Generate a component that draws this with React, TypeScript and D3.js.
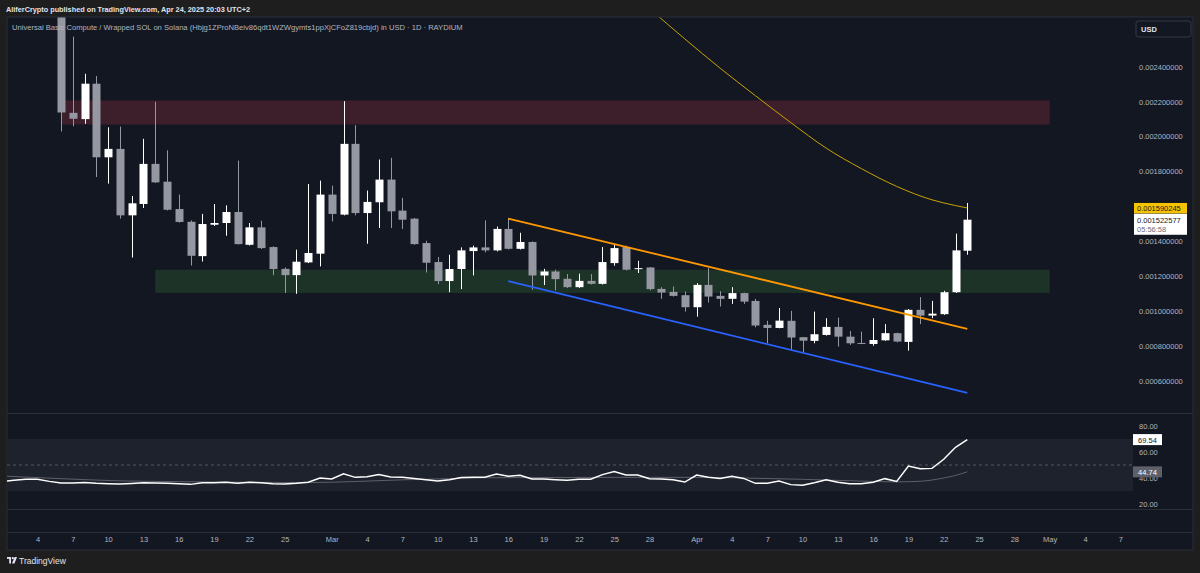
import { useEffect, useRef } from 'react';
import * as d3 from 'd3';

// date, open, high, low, close
type Candle = [string, number, number, number, number];

const candles: Candle[] = [
  ['2025-02-06', 0.00272, 0.0028, 0.002029, 0.002138],
  ['2025-02-07', 0.002136, 0.002573, 0.002059, 0.002102],
  ['2025-02-08', 0.0021, 0.00236, 0.002073, 0.002303],
  ['2025-02-09', 0.002303, 0.002347, 0.001768, 0.001881],
  ['2025-02-10', 0.001881, 0.002053, 0.00173, 0.001929],
  ['2025-02-11', 0.001929, 0.002057, 0.001529, 0.001548],
  ['2025-02-12', 0.001548, 0.001659, 0.001306, 0.001617],
  ['2025-02-13', 0.001613, 0.001987, 0.00159, 0.001843],
  ['2025-02-14', 0.001843, 0.0022, 0.001734, 0.001737],
  ['2025-02-15', 0.001741, 0.001921, 0.001576, 0.00158],
  ['2025-02-16', 0.001584, 0.001667, 0.001506, 0.00151],
  ['2025-02-17', 0.001511, 0.001519, 0.00126, 0.001316],
  ['2025-02-18', 0.001314, 0.001556, 0.001283, 0.001498],
  ['2025-02-19', 0.001494, 0.001613, 0.001487, 0.001504],
  ['2025-02-20', 0.001504, 0.001605, 0.001431, 0.001567],
  ['2025-02-21', 0.001567, 0.001862, 0.001381, 0.001383],
  ['2025-02-22', 0.001379, 0.001504, 0.001375, 0.001479],
  ['2025-02-23', 0.001479, 0.001517, 0.001355, 0.00136],
  ['2025-02-24', 0.001366, 0.00137, 0.001205, 0.00124],
  ['2025-02-25', 0.001241, 0.001249, 0.001103, 0.001205],
  ['2025-02-26', 0.001205, 0.001351, 0.001098, 0.001282],
  ['2025-02-27', 0.001278, 0.001728, 0.001274, 0.001332],
  ['2025-02-28', 0.001328, 0.001747, 0.001255, 0.001667],
  ['2025-03-01', 0.001667, 0.001718, 0.001513, 0.001556],
  ['2025-03-02', 0.001552, 0.002203, 0.001548, 0.001958],
  ['2025-03-03', 0.001958, 0.002065, 0.001548, 0.001561],
  ['2025-03-04', 0.001561, 0.00169, 0.001385, 0.001625],
  ['2025-03-05', 0.001623, 0.001868, 0.001475, 0.001753],
  ['2025-03-06', 0.001753, 0.001878, 0.001475, 0.001571],
  ['2025-03-07', 0.001575, 0.001648, 0.00147, 0.001523],
  ['2025-03-08', 0.001529, 0.001533, 0.001379, 0.001383],
  ['2025-03-09', 0.001389, 0.001402, 0.00122, 0.001276],
  ['2025-03-10', 0.00128, 0.001309, 0.001153, 0.001171],
  ['2025-03-11', 0.001171, 0.001322, 0.001107, 0.00124],
  ['2025-03-12', 0.00124, 0.001364, 0.001125, 0.001347],
  ['2025-03-13', 0.001343, 0.001374, 0.001203, 0.001364],
  ['2025-03-14', 0.001364, 0.001519, 0.001335, 0.001347],
  ['2025-03-15', 0.001347, 0.001484, 0.001341, 0.00147],
  ['2025-03-16', 0.00147, 0.001533, 0.001352, 0.001356],
  ['2025-03-17', 0.001356, 0.001448, 0.001352, 0.001395],
  ['2025-03-18', 0.001395, 0.001398, 0.001121, 0.001203],
  ['2025-03-19', 0.001203, 0.001241, 0.001148, 0.001226],
  ['2025-03-20', 0.001226, 0.001236, 0.001117, 0.001182],
  ['2025-03-21', 0.001184, 0.001211, 0.001131, 0.001136],
  ['2025-03-22', 0.001136, 0.001213, 0.001132, 0.001172],
  ['2025-03-23', 0.001172, 0.001211, 0.001151, 0.001155],
  ['2025-03-24', 0.001155, 0.001366, 0.001151, 0.00128],
  ['2025-03-25', 0.001274, 0.001379, 0.001259, 0.00136],
  ['2025-03-26', 0.001366, 0.001374, 0.001232, 0.001236],
  ['2025-03-27', 0.00124, 0.001287, 0.001217, 0.001245],
  ['2025-03-28', 0.001249, 0.001251, 0.001117, 0.001125],
  ['2025-03-29', 0.001126, 0.001136, 0.001069, 0.001105],
  ['2025-03-30', 0.001109, 0.00114, 0.001082, 0.001086],
  ['2025-03-31', 0.00109, 0.001111, 0.000996, 0.001021],
  ['2025-04-01', 0.001021, 0.001159, 0.000967, 0.001149],
  ['2025-04-02', 0.001149, 0.001245, 0.001048, 0.001082],
  ['2025-04-03', 0.001086, 0.001113, 0.001025, 0.001069],
  ['2025-04-04', 0.001069, 0.001136, 0.00104, 0.001102],
  ['2025-04-05', 0.001102, 0.001104, 0.00104, 0.001053],
  ['2025-04-06', 0.001057, 0.001069, 0.000906, 0.000916],
  ['2025-04-07', 0.00092, 0.000943, 0.000814, 0.000902],
  ['2025-04-08', 0.000902, 0.001016, 0.0009, 0.000944],
  ['2025-04-09', 0.000943, 0.001, 0.000776, 0.000847],
  ['2025-04-10', 0.000849, 0.00085, 0.000763, 0.000829],
  ['2025-04-11', 0.000828, 0.000996, 0.000814, 0.000866],
  ['2025-04-12', 0.000862, 0.000958, 0.000858, 0.000908],
  ['2025-04-13', 0.000908, 0.000961, 0.000795, 0.000852],
  ['2025-04-14', 0.000852, 0.000885, 0.000805, 0.000814],
  ['2025-04-15', 0.000816, 0.000881, 0.000809, 0.000815],
  ['2025-04-16', 0.00081, 0.000958, 0.0008, 0.000833],
  ['2025-04-17', 0.000831, 0.000924, 0.000828, 0.000872],
  ['2025-04-18', 0.000872, 0.000875, 0.000819, 0.000824],
  ['2025-04-19', 0.000822, 0.001011, 0.000772, 0.001006],
  ['2025-04-20', 0.001006, 0.001079, 0.000924, 0.000973],
  ['2025-04-21', 0.000973, 0.001057, 0.000958, 0.000984],
  ['2025-04-22', 0.000981, 0.001115, 0.000977, 0.001107],
  ['2025-04-23', 0.001107, 0.001443, 0.001103, 0.001347],
  ['2025-04-24', 0.001345, 0.001619, 0.001322, 0.001523],
];

// daily RSI(14), starting Feb 1
const rsiStart = '2025-02-01';
const rsiValues = [
  37.4, 38.2, 39.0, 39.0, 37.4, 36.2, 36.2, 36.6, 35.9, 35.6, 35.4, 35.8, 36.4, 36.2,
  35.9, 35.6, 35.1, 36.3, 36.4, 36.7, 35.9, 36.7, 36.4, 35.6, 35.4, 35.9, 36.7, 40.0,
  39.2, 43.3, 40.5, 41.0, 42.6, 40.8, 40.5, 39.7, 38.7, 37.7, 38.7, 40.3, 40.5, 40.6,
  43.1, 41.3, 42.1, 39.2, 39.2, 38.7, 38.2, 39.0, 39.0, 42.6, 44.9, 42.3, 42.3, 39.5,
  39.2, 38.7, 36.9, 42.3, 40.5, 39.7, 41.3, 39.7, 35.9, 35.9, 37.7, 34.9, 34.4, 36.4,
  38.7, 36.7, 35.6, 35.6, 36.7, 39.5, 37.4, 49.2, 47.2, 47.4, 54.4, 63.6, 69.54,
];

const rsiAverage: [string, number][] = [
  ['2025-02-01', 41.5],
  ['2025-02-06', 39.5],
  ['2025-02-11', 37.8],
  ['2025-02-16', 37.2],
  ['2025-02-21', 36.8],
  ['2025-02-27', 36.5],
  ['2025-03-03', 37.3],
  ['2025-03-07', 38.6],
  ['2025-03-11', 39.5],
  ['2025-03-14', 40.2],
  ['2025-03-20', 40.4],
  ['2025-03-25', 40.5],
  ['2025-03-31', 40.5],
  ['2025-04-05', 40.0],
  ['2025-04-10', 39.0],
  ['2025-04-14', 37.9],
  ['2025-04-18', 37.0],
  ['2025-04-20', 37.5],
  ['2025-04-22', 40.0],
  ['2025-04-23', 42.0],
  ['2025-04-24', 44.74],
];

const movingAverage: [string, number][] = [
  ['2025-03-26', 0.002854],
  ['2025-03-28', 0.002734],
  ['2025-03-31', 0.00256],
  ['2025-04-03', 0.002392],
  ['2025-04-06', 0.002234],
  ['2025-04-09', 0.00208],
  ['2025-04-12', 0.001934],
  ['2025-04-15', 0.001816],
  ['2025-04-18', 0.001714],
  ['2025-04-21', 0.001637],
  ['2025-04-23', 0.001604],
  ['2025-04-24', 0.001590245],
];

const channelTop: [string, number][] = [
  ['2025-03-16', 0.001529],
  ['2025-04-24', 0.000897],
];
const channelBottom: [string, number][] = [
  ['2025-03-16', 0.001171],
  ['2025-04-24', 0.000529],
];

// [from, to, low, high]
const resistanceZone: [string, string, number, number] = ['2025-02-06', '2025-05-01', 0.002069, 0.002207];
const supportZone: [string, string, number, number] = ['2025-02-14', '2025-05-01', 0.001103, 0.001236];

const priceTicks = [0.0006, 0.0008, 0.001, 0.0012, 0.0014, 0.0016, 0.0018, 0.002, 0.0022, 0.0024];
const rsiTicks = [20, 40, 60, 80];
const timeTicks: [string, string][] = [
  ['2025-02-04', '4'], ['2025-02-07', '7'], ['2025-02-10', '10'], ['2025-02-13', '13'],
  ['2025-02-16', '16'], ['2025-02-19', '19'], ['2025-02-22', '22'], ['2025-02-25', '25'],
  ['2025-03-01', 'Mar'], ['2025-03-04', '4'], ['2025-03-07', '7'], ['2025-03-10', '10'],
  ['2025-03-13', '13'], ['2025-03-16', '16'], ['2025-03-19', '19'], ['2025-03-22', '22'],
  ['2025-03-25', '25'], ['2025-03-28', '28'], ['2025-04-01', 'Apr'], ['2025-04-04', '4'],
  ['2025-04-07', '7'], ['2025-04-10', '10'], ['2025-04-13', '13'], ['2025-04-16', '16'],
  ['2025-04-19', '19'], ['2025-04-22', '22'], ['2025-04-25', '25'], ['2025-04-28', '28'],
  ['2025-05-01', 'May'], ['2025-05-04', '4'], ['2025-05-07', '7'],
];

const lastClose = 0.001522577;
const countdown = '05:56:58';
const headline = 'AliferCrypto published on TradingView.com, Apr 24, 2025 20:03 UTC+2';
const symbolTitle =
  'Universal Basic Compute / Wrapped SOL on Solana (Hbjg1ZProNBeiv86qdt1WZWgymts1ppXjCFoZ819cbjd) in USD · 1D · RAYDIUM';

const day = (s: string) => new Date(`${s}T00:00:00Z`);
const FONT = '"Liberation Sans", Arial, sans-serif';

export default function App() {
  const svgRef = useRef<SVGSVGElement | null>(null);

  useEffect(() => {
    document.body.style.margin = '0';
    document.body.style.background = '#1e1e1e';
    if (!svgRef.current) return;

    const width = 1200;
    const height = 573;
    const frame = { left: 7, right: 1193, top: 17, bottom: 550 };
    const plotRight = 1133;
    const priceBottom = 413;
    const rsiBottom = 509;
    const timeTop = 532;

    const svg = d3.select(svgRef.current).attr('width', width).attr('height', height);
    svg.selectAll('*').remove();

    const x = d3.scaleUtc().domain([day('2025-02-04'), day('2025-05-07')]).range([37.5, 1120.3]);
    const y = d3.scaleLinear().domain([0.0006, 0.0024]).range([380.6, 66.8]);
    const yRsi = d3.scaleLinear().domain([20, 80]).range([504, 426]);

    svg.append('rect').attr('width', width).attr('height', height).attr('fill', '#1e1e1e');
    svg.append('rect')
      .attr('x', frame.left).attr('y', frame.top)
      .attr('width', frame.right - frame.left).attr('height', frame.bottom - frame.top)
      .attr('fill', '#131722').attr('stroke', '#2a2e39');

    const defs = svg.append('defs');
    defs.append('clipPath').attr('id', 'price-clip').append('rect')
      .attr('x', frame.left).attr('y', frame.top + 0.5)
      .attr('width', plotRight - frame.left).attr('height', priceBottom - frame.top - 0.5);
    defs.append('clipPath').attr('id', 'rsi-clip').append('rect')
      .attr('x', frame.left).attr('y', priceBottom)
      .attr('width', plotRight - frame.left).attr('height', rsiBottom - priceBottom);

    // headline
    svg.append('text')
      .attr('x', 6).attr('y', 12)
      .attr('fill', '#e0e3eb').attr('font-family', FONT).attr('font-size', 7.3).attr('font-weight', 700)
      .text(headline);

    // pane separators
    [priceBottom, rsiBottom, timeTop].forEach((yy) => {
      svg.append('line')
        .attr('x1', frame.left).attr('x2', frame.right)
        .attr('y1', yy + 0.5).attr('y2', yy + 0.5)
        .attr('stroke', '#2a2e39');
    });

    // ---- price pane ----
    const price = svg.append('g').attr('clip-path', 'url(#price-clip)');

    const zone = (z: [string, string, number, number], fill: string) => {
      price.append('rect')
        .attr('x', x(day(z[0]))).attr('width', x(day(z[1])) - x(day(z[0])))
        .attr('y', y(z[3])).attr('height', y(z[2]) - y(z[3]))
        .attr('fill', fill);
    };
    zone(resistanceZone, '#3d1e2b');
    zone(supportZone, '#1d3327');

    svg.append('text')
      .attr('x', 12).attr('y', 30)
      .attr('fill', '#b2b5be').attr('font-family', FONT).attr('font-size', 7.6)
      .text(symbolTitle);

    const candleG = price.append('g');
    candles.forEach(([d, o, h, l, c]) => {
      const cx = Math.round(x(day(d)));
      const color = c >= o ? '#ffffff' : '#9598a1';
      candleG.append('line')
        .attr('x1', cx + 0.5).attr('x2', cx + 0.5)
        .attr('y1', y(h)).attr('y2', y(l))
        .attr('stroke', color).attr('stroke-width', 1);
      const top = y(Math.max(o, c));
      const bodyH = Math.max(1, y(Math.min(o, c)) - top);
      candleG.append('rect')
        .attr('x', cx - 3.5).attr('width', 8)
        .attr('y', top).attr('height', bodyH)
        .attr('fill', color);
    });

    const priceLine = d3.line<[string, number]>()
      .x((p) => x(day(p[0])))
      .y((p) => y(p[1]));

    price.append('path')
      .datum(movingAverage)
      .attr('d', priceLine.curve(d3.curveMonotoneX))
      .attr('fill', 'none').attr('stroke', '#c9a300').attr('stroke-width', 1);

    const straight = d3.line<[string, number]>().x((p) => x(day(p[0]))).y((p) => y(p[1]));
    price.append('path').datum(channelTop).attr('d', straight)
      .attr('fill', 'none').attr('stroke', '#ff9800').attr('stroke-width', 1.8);
    price.append('path').datum(channelBottom).attr('d', straight)
      .attr('fill', 'none').attr('stroke', '#2962ff').attr('stroke-width', 1.8);

    // price axis
    const priceAxis = svg.append('g')
      .attr('transform', `translate(${plotRight},0)`)
      .call(d3.axisRight(y).tickValues(priceTicks).tickFormat((v) => (v as number).toFixed(9)).tickSize(0).tickPadding(6));
    priceAxis.select('.domain').remove();
    priceAxis.selectAll('text')
      .attr('fill', '#b2b5be').attr('font-family', FONT).attr('font-size', 7.5);

    // USD badge
    svg.append('rect')
      .attr('x', 1136).attr('y', 21).attr('width', 55).attr('height', 16).attr('rx', 2.5)
      .attr('fill', '#131722').attr('stroke', '#363a45');
    svg.append('text')
      .attr('x', 1141).attr('y', 31.8)
      .attr('fill', '#e0e3eb').attr('font-family', FONT).attr('font-size', 7.5).attr('font-weight', 700)
      .text('USD');

    // last value labels
    const maLast = movingAverage[movingAverage.length - 1][1];
    const maY = y(maLast);
    svg.append('rect')
      .attr('x', 1134).attr('y', maY - 5).attr('width', 53).attr('height', 10.5)
      .attr('fill', '#f5c300');
    svg.append('text')
      .attr('x', 1137).attr('y', maY + 3)
      .attr('fill', '#131722').attr('font-family', FONT).attr('font-size', 7.5)
      .text(maLast.toFixed(9));
    svg.append('rect')
      .attr('x', 1134).attr('y', maY + 5.8).attr('width', 53).attr('height', 21)
      .attr('fill', '#ffffff');
    svg.append('text')
      .attr('x', 1137).attr('y', maY + 15)
      .attr('fill', '#131722').attr('font-family', FONT).attr('font-size', 7.5)
      .text(lastClose.toFixed(9));
    svg.append('text')
      .attr('x', 1137).attr('y', maY + 24)
      .attr('fill', '#6a6d78').attr('font-family', FONT).attr('font-size', 7.5)
      .text(countdown);

    // ---- RSI pane ----
    const rsi = svg.append('g').attr('clip-path', 'url(#rsi-clip)');
    rsi.append('rect')
      .attr('x', frame.left).attr('width', plotRight - frame.left)
      .attr('y', yRsi(70)).attr('height', yRsi(30) - yRsi(70))
      .attr('fill', '#1e222d');
    rsi.append('line')
      .attr('x1', frame.left).attr('x2', plotRight)
      .attr('y1', yRsi(50)).attr('y2', yRsi(50))
      .attr('stroke', '#787b86').attr('stroke-opacity', 0.6).attr('stroke-dasharray', '3 3');

    rsi.append('path')
      .datum(rsiAverage)
      .attr('d', d3.line<[string, number]>().x((p) => x(day(p[0]))).y((p) => yRsi(p[1])).curve(d3.curveMonotoneX))
      .attr('fill', 'none').attr('stroke', '#5d606b').attr('stroke-width', 1);

    const startDay = day(rsiStart);
    const rsiPoints = rsiValues.map((v, i) => ({ d: d3.utcDay.offset(startDay, i), v }));
    rsi.append('path')
      .datum(rsiPoints)
      .attr('d', d3.line<{ d: Date; v: number }>().x((p) => x(p.d)).y((p) => yRsi(p.v)))
      .attr('fill', 'none').attr('stroke', '#ffffff').attr('stroke-width', 1.5);

    const rsiAxis = svg.append('g')
      .attr('transform', `translate(${plotRight},0)`)
      .call(d3.axisRight(yRsi).tickValues(rsiTicks).tickFormat((v) => (v as number).toFixed(2)).tickSize(0).tickPadding(6));
    rsiAxis.select('.domain').remove();
    rsiAxis.selectAll('text')
      .attr('fill', '#b2b5be').attr('font-family', FONT).attr('font-size', 7.5);

    const rsiLast = rsiValues[rsiValues.length - 1];
    const avgLast = rsiAverage[rsiAverage.length - 1][1];
    svg.append('rect')
      .attr('x', 1133).attr('y', yRsi(rsiLast) - 5.5).attr('width', 29).attr('height', 11)
      .attr('fill', '#ffffff');
    svg.append('text')
      .attr('x', 1147.5).attr('y', yRsi(rsiLast) + 3).attr('text-anchor', 'middle')
      .attr('fill', '#131722').attr('font-family', FONT).attr('font-size', 7.5)
      .text(rsiLast.toFixed(2));
    svg.append('rect')
      .attr('x', 1133).attr('y', yRsi(avgLast) - 5.5).attr('width', 29).attr('height', 11)
      .attr('fill', '#5d606b');
    svg.append('text')
      .attr('x', 1147.5).attr('y', yRsi(avgLast) + 3).attr('text-anchor', 'middle')
      .attr('fill', '#ffffff').attr('font-family', FONT).attr('font-size', 7.5)
      .text(avgLast.toFixed(2));

    // ---- time axis ----
    const tickLabel = new Map(timeTicks.map(([d, l]) => [day(d).getTime(), l]));
    const timeAxis = svg.append('g')
      .attr('transform', `translate(0,${timeTop})`)
      .call(
        d3.axisBottom(x)
          .tickValues(timeTicks.map(([d]) => day(d)))
          .tickFormat((d) => tickLabel.get((d as Date).getTime()) ?? '')
          .tickSize(0)
          .tickPadding(5),
      );
    timeAxis.select('.domain').remove();
    timeAxis.selectAll('text')
      .attr('fill', '#b2b5be').attr('font-family', FONT).attr('font-size', 7.5);

    // ---- TradingView mark ----
    const logo = svg.append('g').attr('transform', 'translate(7,557)');
    logo.append('rect').attr('x', 0).attr('y', 0).attr('width', 4).attr('height', 1.8).attr('fill', '#e0e3eb');
    logo.append('rect').attr('x', 2.2).attr('y', 0).attr('width', 1.8).attr('height', 6.5).attr('fill', '#e0e3eb');
    logo.append('circle').attr('cx', 5.8).attr('cy', 1.2).attr('r', 1.1).attr('fill', '#e0e3eb');
    logo.append('path').attr('d', 'M7.5,0 L10,0 L7.5,6.5 L5,6.5 Z').attr('fill', '#e0e3eb');
    svg.append('text')
      .attr('x', 19).attr('y', 563.5)
      .attr('fill', '#e0e3eb').attr('font-family', FONT).attr('font-size', 8.5)
      .text('TradingView');
  }, []);

  return <svg ref={svgRef} style={{ display: 'block' }} />;
}
